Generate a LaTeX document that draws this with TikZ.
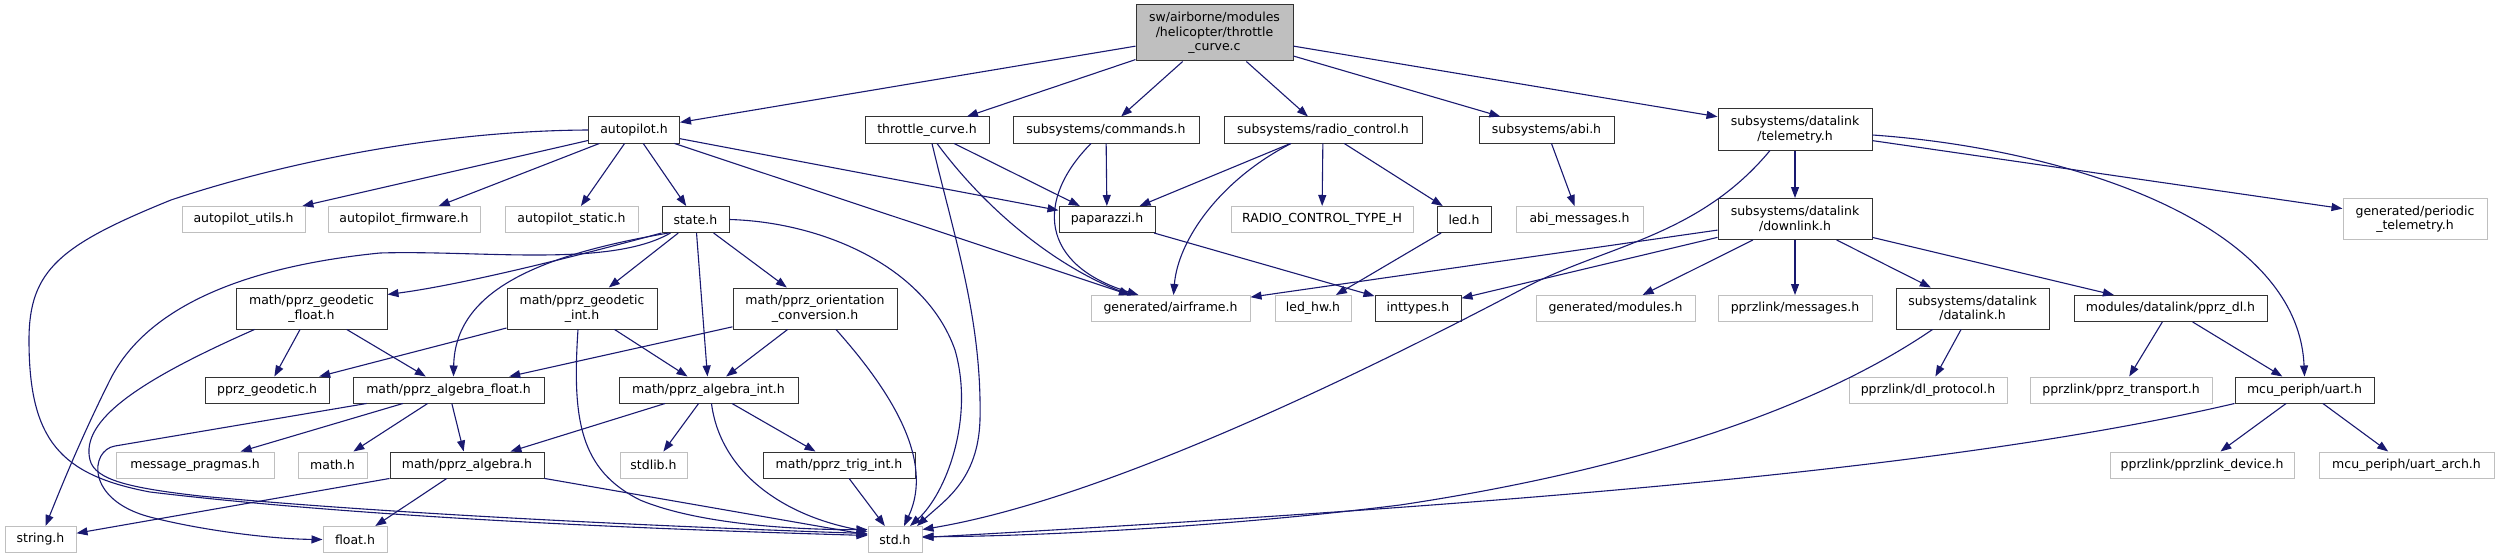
\documentclass[tikz,border=0pt]{standalone}
\usepackage{fontspec}
\setmainfont{DejaVu Sans}
\usetikzlibrary{arrows.meta}
\definecolor{edgec}{HTML}{191970}
\definecolor{greyb}{HTML}{BFBFBF}
\begin{document}
\begin{tikzpicture}[x=1pt,y=-1pt,
  nb/.style={draw=black!80, line width=1pt, inner sep=0pt, minimum height=26pt,
    font=\fontsize{12.5}{14.5}\selectfont, align=center, fill=white},
  ng/.style={nb, draw=greyb},
  e/.style={draw=edgec, line width=1.1pt, -{Triangle[length=11pt,width=8pt]}},
]
\useasboundingbox (0,0) rectangle (2499,559);
% row 0
\node[nb, fill=greyb, minimum width=157pt, minimum height=56pt] (main) at (1214.5,33) {sw/airborne/modules\\/helicopter/throttle\\\_curve.c};
% row 1
\node[nb, minimum width=91pt] (autopilot) at (634,130) {autopilot.h};
\node[nb, minimum width=124pt] (throttle) at (927,130) {throttle\_curve.h};
\node[nb, minimum width=186pt] (commands) at (1106,130) {subsystems/commands.h};
\node[nb, minimum width=198pt] (radio) at (1323,130) {subsystems/radio\_control.h};
\node[nb, minimum width=135pt] (abi) at (1546.5,130) {subsystems/abi.h};
\node[nb, minimum width=154pt, minimum height=41pt] (telem) at (1795,129.5) {subsystems/datalink\\/telemetry.h};
% row 2
\node[ng, minimum width=123pt] (aputils) at (243.5,219.5) {autopilot\_utils.h};
\node[ng, minimum width=152pt] (apfirm) at (404,219.5) {autopilot\_firmware.h};
\node[ng, minimum width=133pt] (apstatic) at (571.5,219.5) {autopilot\_static.h};
\node[nb, minimum width=67pt] (state) at (695.5,219.5) {state.h};
\node[nb, minimum width=96pt] (pap) at (1107,219.5) {paparazzi.h};
\node[ng, minimum width=182pt] (rctype) at (1322,219.5) {RADIO\_CONTROL\_TYPE\_H};
\node[nb, minimum width=54pt] (led) at (1464,219.5) {led.h};
\node[ng, minimum width=127pt] (abimsg) at (1579.5,219.5) {abi\_messages.h};
\node[nb, minimum width=154pt, minimum height=41pt] (downlink) at (1795,219) {subsystems/datalink\\/downlink.h};
\node[ng, minimum width=144pt, minimum height=41pt] (periodic) at (2415,219) {generated/periodic\\\_telemetry.h};
% row 3
\node[nb, minimum width=151pt, minimum height=41pt] (geof) at (311.5,308.5) {math/pprz\_geodetic\\\_float.h};
\node[nb, minimum width=150pt, minimum height=41pt] (geoi) at (582,308.5) {math/pprz\_geodetic\\\_int.h};
\node[nb, minimum width=164pt, minimum height=41pt] (orient) at (815,308.5) {math/pprz\_orientation\\\_conversion.h};
\node[ng, minimum width=159pt] (airframe) at (1170.5,308.5) {generated/airframe.h};
\node[ng, minimum width=76pt] (ledhw) at (1313,308.5) {led\_hw.h};
\node[nb, minimum width=86pt] (inttypes) at (1418,308.5) {inttypes.h};
\node[ng, minimum width=159pt] (modules) at (1615.5,308.5) {generated/modules.h};
\node[ng, minimum width=154pt] (messages) at (1795,308.5) {pprzlink/messages.h};
\node[nb, minimum width=153pt, minimum height=41pt] (datalink) at (1972.5,308.5) {subsystems/datalink\\/datalink.h};
\node[nb, minimum width=193pt] (pprzdl) at (2170.5,308.5) {modules/datalink/pprz\_dl.h};
% row 4
\node[nb, minimum width=124pt] (pgeod) at (267,390) {pprz\_geodetic.h};
\node[nb, minimum width=191pt] (algf) at (448.5,390) {math/pprz\_algebra\_float.h};
\node[nb, minimum width=179pt] (algi) at (708.5,390) {math/pprz\_algebra\_int.h};
\node[ng, minimum width=158pt] (dlproto) at (1928,390) {pprzlink/dl\_protocol.h};
\node[ng, minimum width=182pt] (transport) at (2121,390) {pprzlink/pprz\_transport.h};
\node[nb, minimum width=139pt] (uart) at (2304.5,390) {mcu\_periph/uart.h};
% row 5
\node[ng, minimum width=158pt] (msgprag) at (195,465) {message\_pragmas.h};
\node[ng, minimum width=69pt] (mathh) at (332.5,465) {math.h};
\node[nb, minimum width=154pt] (alg) at (467,465) {math/pprz\_algebra.h};
\node[ng, minimum width=67pt] (stdlib) at (653.5,465) {stdlib.h};
\node[nb, minimum width=152pt] (trig) at (839,465) {math/pprz\_trig\_int.h};
\node[ng, minimum width=184pt] (device) at (2202,465) {pprzlink/pprzlink\_device.h};
\node[ng, minimum width=175pt] (uartarch) at (2406.5,465) {mcu\_periph/uart\_arch.h};
% row 6
\node[ng, minimum width=71pt] (string) at (40.5,539.5) {string.h};
\node[ng, minimum width=64pt] (float) at (355,539.5) {float.h};
\node[ng, minimum width=54pt] (std) at (895,539.5) {std.h};

% ---- straight edges
\foreach \a/\b in {main/autopilot, main/throttle, main/commands, main/radio, main/abi, main/telem,
  autopilot/aputils, autopilot/apfirm, autopilot/apstatic, autopilot/state, autopilot/pap, autopilot/airframe,
  throttle/pap, commands/pap, radio/pap, radio/rctype, radio/led, abi/abimsg, pap/inttypes, led/ledhw,
  telem/downlink, telem/periodic,
  downlink/airframe, downlink/inttypes, downlink/modules, downlink/messages, downlink/datalink, downlink/pprzdl,
  datalink/dlproto, pprzdl/transport, pprzdl/uart, uart/device, uart/uartarch,
  state/geoi, state/algi, state/orient,
  geof/pgeod, geof/algf, geoi/pgeod, geoi/algi, orient/algf, orient/algi,
  algf/msgprag, algf/mathh, algf/alg, algi/alg, algi/stdlib, algi/trig,
  alg/string, alg/float, alg/std, trig/std}
  {\draw[e] (\a) -- (\b);}

% ---- curved edges
% autopilot -> std
\draw[e] (autopilot.west) .. controls (420,131) and (260,170) .. (171,200)
  .. controls (60,245) and (29,270) .. (29,340)
  .. controls (29,440) and (60,475) .. (150,492)
  .. controls (400,522) and (750,532) .. ([yshift=4]std.west);
% throttle -> airframe
\draw[e] ([xshift=10]throttle.south) .. controls (990,215) and (1060,268) .. ([xshift=-40]airframe.north);
% throttle -> std
\draw[e] ([xshift=5]throttle.south) .. controls (955,240) and (982,320) .. (980,420)
  .. controls (978,480) and (945,500) .. ([xshift=22]std.north);
% commands -> airframe
\draw[e] ([xshift=-15]commands.south) .. controls (1035,200) and (1040,265) .. ([xshift=-32]airframe.north);
% radio -> airframe
\draw[e] ([xshift=-32]radio.south) .. controls (1220,180) and (1178,240) .. ([xshift=3]airframe.north);
% telemetry -> uart
\draw[e] ([yshift=-5.5]telem.east) .. controls (2060,148) and (2298,220) .. (uart.north);
% telemetry -> std
\draw[e] ([xshift=-25]telem.south) .. controls (1700,235) and (1610,245) .. (1530,285)
  .. controls (1350,380) and (1100,500) .. ([yshift=10]std.east);
% datalink -> std
\draw[e] ([xshift=-40]datalink.south) .. controls (1800,420) and (1600,475) .. (1400,505)
  .. controls (1200,530) and (1000,537) .. ([yshift=3]std.east);
% uart -> std
\draw[e] (uart.south west) .. controls (1950,470) and (1500,505) .. ([yshift=2]std.east);
% state -> std
\draw[e] (state.east) .. controls (820,222) and (925,265) .. (955,350)
  .. controls (975,420) and (945,495) .. ([xshift=15]std.north);
% state -> string
\draw[e] ([xshift=-25]state.south) .. controls (610,268) and (480,250) .. (380,253)
  .. controls (260,265) and (150,300) .. (110,380)
  .. controls (80,440) and (60,490) .. ([xshift=5]string.north);
% state -> geodetic_float
\draw[e] (state.south west) .. controls (570,258) and (460,285) .. ([yshift=-7]geof.north east);
% state -> algebra_float
\draw[e] ([xshift=-27]state.south) .. controls (540,255) and (455,290) .. ([xshift=5]algf.north);
% orientation -> std
\draw[e] ([xshift=21]orient.south) .. controls (890,390) and (935,460) .. ([xshift=9]std.north);
% geodetic_int -> std
\draw[e] ([xshift=-4]geoi.south) .. controls (572,420) and (580,470) .. (640,500)
  .. controls (700,525) and (800,530) .. ([yshift=10]std.west);
% algebra_int -> std
\draw[e] ([xshift=3]algi.south) .. controls (720,470) and (780,515) .. ([yshift=8]std.west);
% geodetic_float -> std
\draw[e] ([xshift=-57]geof.south) .. controls (140,380) and (80,420) .. (90,460)
  .. controls (95,480) and (130,488) .. (200,496)
  .. controls (400,515) and (700,528) .. ([yshift=6]std.west);
% algebra_float -> float
\draw[e] ([xshift=14]algf.south west) -- (115,446)
  .. controls (90,450) and (85,500) .. (150,517)
  .. controls (200,530) and (270,539) .. (float.west);
\end{tikzpicture}
\end{document}
